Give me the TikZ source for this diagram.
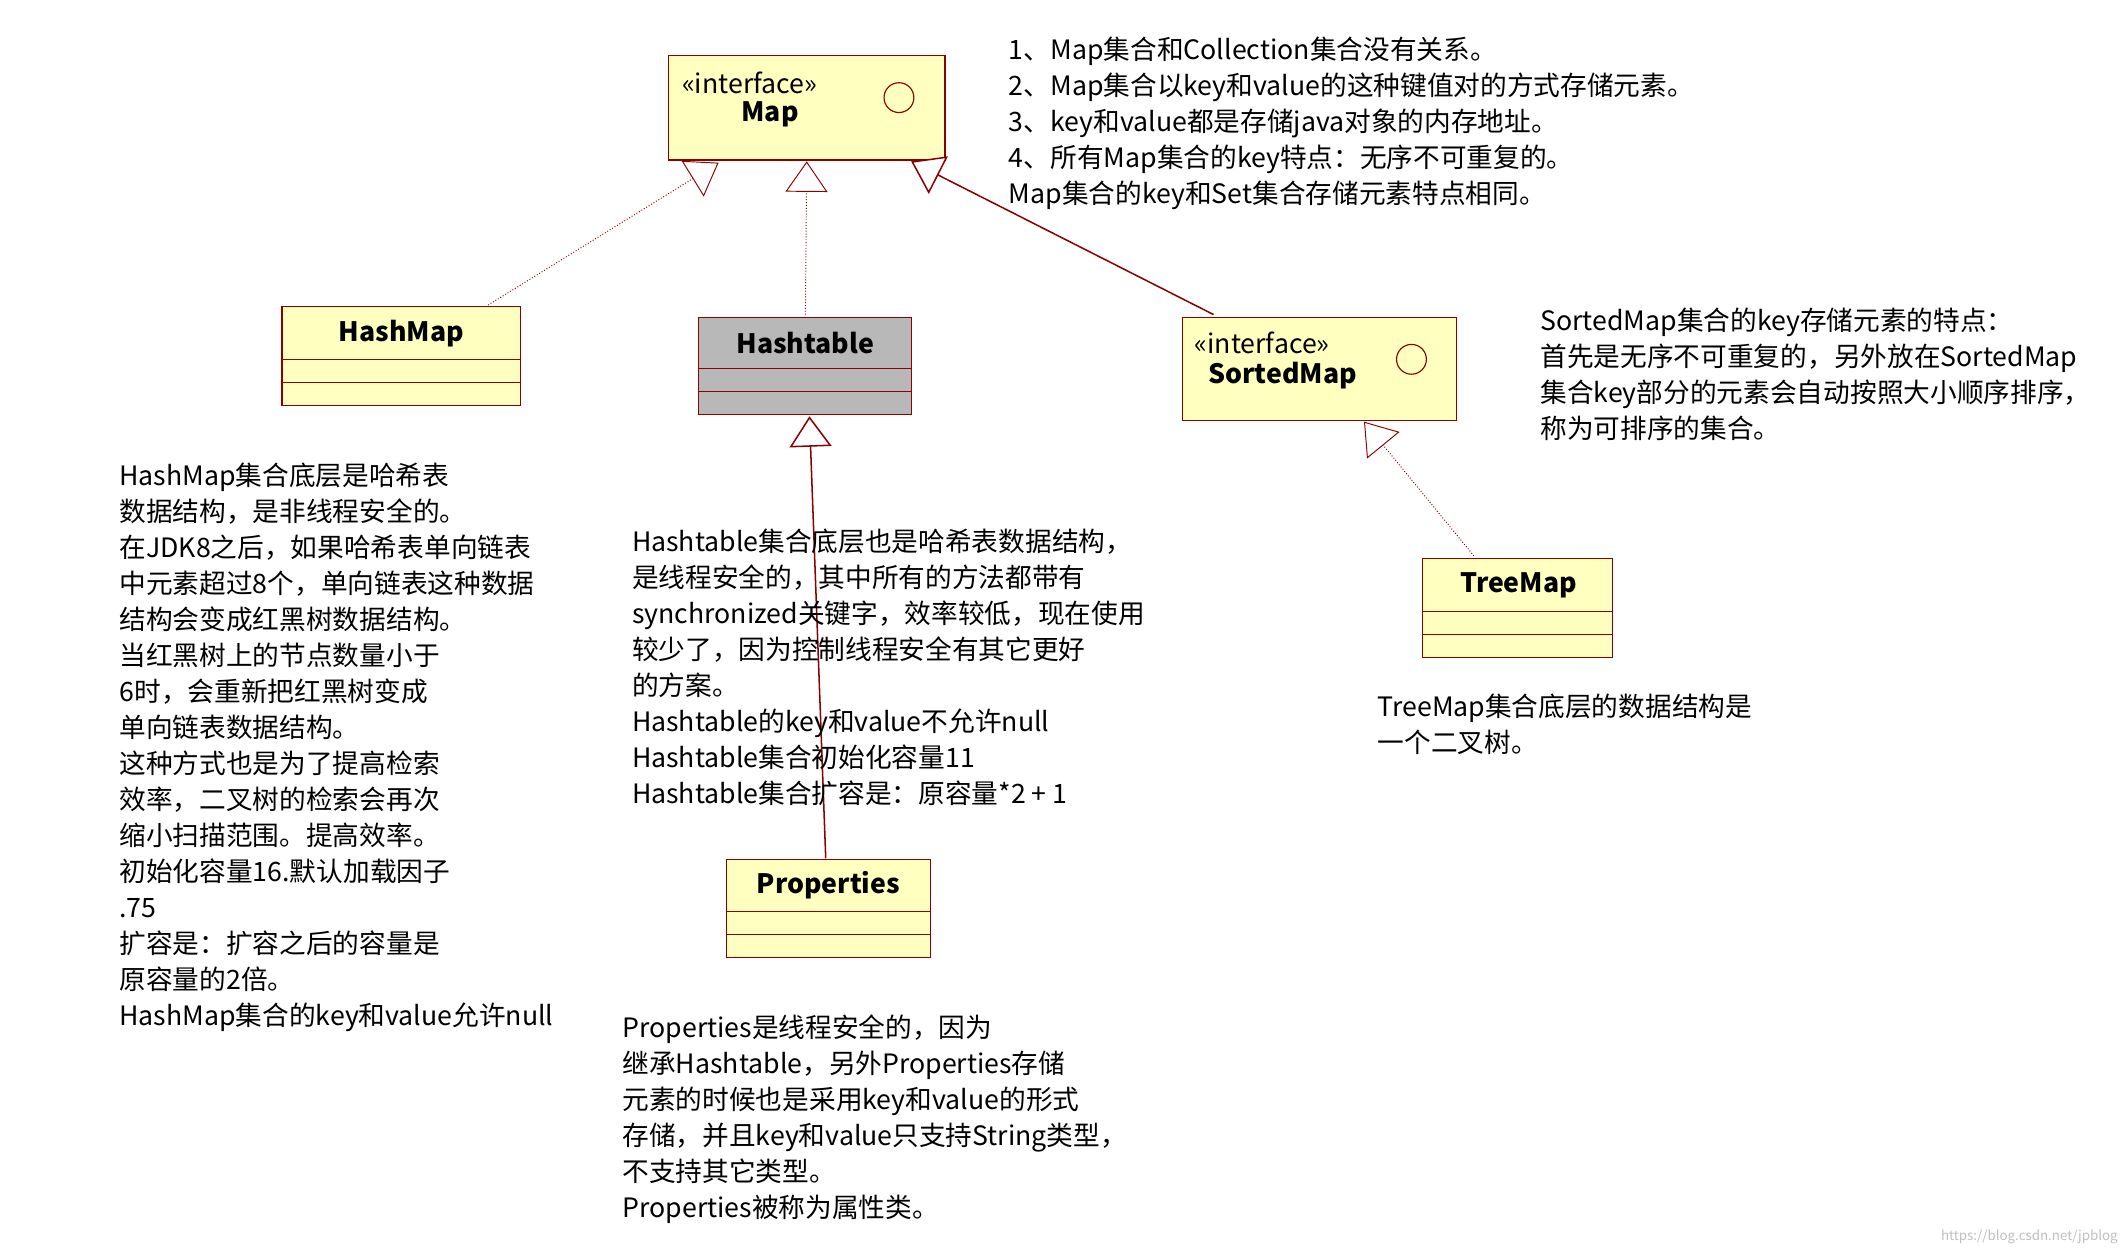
\documentclass[tikz,border=0pt]{standalone}
\usepackage{fontspec}
\setmainfont{Noto Sans CJK SC}
\usetikzlibrary{arrows.meta}
\definecolor{boxfill}{HTML}{FFFFC0}
\definecolor{uml}{HTML}{8B0000}
\begin{document}
\begin{tikzpicture}[x=0.05cm,y=-0.05cm,
  umlbox/.style={draw=uml,fill=boxfill,line width=1.2pt},
  note/.style={anchor=north west,inner sep=0pt,align=left,font=\fontsize{28}{37.8}\selectfont},
  lbl/.style={inner sep=0pt,font=\fontsize{28}{34}\selectfont},
  blbl/.style={inner sep=0pt,font=\fontsize{28}{34}\selectfont\bfseries},
  realize/.style={draw=uml,line width=1pt,dotted,-{Triangle[open,fill=white,length=32pt,width=44pt]}},
  extend/.style={draw=uml,line width=1.6pt,-{Triangle[open,fill=white,length=32pt,width=44pt]}}]
\fill[white] (0,0) rectangle (1568,925);
% Map
\draw[umlbox] (493,41) rectangle (697,118);
\node[lbl,anchor=west] (mapi) at (503,61) {<<interface>>};
\node[blbl] (mapt) at (568,84) {Map};
\draw[uml,line width=1.2pt] (663,72) circle (11);
\coordinate (map1) at (530,120);
\coordinate (map2) at (595,119);
\coordinate (map3) at (672,119);
% HashMap
\draw[umlbox] (208,226) rectangle (384,299);
\draw[uml,line width=1.2pt] (208,265) -- (384,265) (208,282) -- (384,282);
\node[blbl] (hm) at (296,246) {HashMap};
\coordinate (hmt) at (360,225);
% Hashtable
\draw[umlbox,fill=black!28] (515,234) rectangle (672,306);
\draw[uml,line width=1.2pt] (515,272) -- (672,272) (515,289) -- (672,289);
\node[blbl] (ht) at (594,253) {Hashtable};
\coordinate (htt) at (594,232);
\coordinate (htb) at (597,307);
% SortedMap
\draw[umlbox] (872,234) rectangle (1074,310);
\node[lbl,anchor=west] (smi) at (881,253) {<<interface>>};
\node[blbl] (sm) at (946,277) {SortedMap};
\draw[uml,line width=1.2pt] (1041,265) circle (11);
\coordinate (smt) at (895,232);
\coordinate (smb) at (1006,311);
% TreeMap
\draw[umlbox] (1049,412) rectangle (1189,485);
\draw[uml,line width=1.2pt] (1049,451) -- (1189,451) (1049,468) -- (1189,468);
\node[blbl] (tm) at (1120,432) {TreeMap};
\coordinate (tmt) at (1087,410);
% Properties
\draw[umlbox] (536,634) rectangle (686,706);
\draw[uml,line width=1.2pt] (536,672) -- (686,672) (536,689) -- (686,689);
\node[blbl] (pr) at (611,653) {Properties};
\coordinate (prt) at (609,633);
% connectors
\draw[realize] (hmt) -- (map1);
\draw[realize] (htt) -- (map2);
\draw[extend] (smt) -- (map3);
\draw[realize] (tmt) -- (smb);
\draw[extend] (prt) -- (htb);
% notes
\node[note] (n1) at (744,27) {1、Map集合和Collection集合没有关系。\\2、Map集合以key和value的这种键值对的方式存储元素。\\3、key和value都是存储java对象的内存地址。\\4、所有Map集合的key特点：无序不可重复的。\\Map集合的key和Set集合存储元素特点相同。};
\node[note] (n2) at (1136,227) {SortedMap集合的key存储元素的特点：\\首先是无序不可重复的，另外放在SortedMap\\集合key部分的元素会自动按照大小顺序排序，\\称为可排序的集合。};
\node[note] (n3) at (88,341) {HashMap集合底层是哈希表\\数据结构，是非线程安全的。\\在JDK8之后，如果哈希表单向链表\\中元素超过8个，单向链表这种数据\\结构会变成红黑树数据结构。\\当红黑树上的节点数量小于\\6时，会重新把红黑树变成\\单向链表数据结构。\\这种方式也是为了提高检索\\效率，二叉树的检索会再次\\缩小扫描范围。提高效率。\\初始化容量16.默认加载因子\\.75\\扩容是：扩容之后的容量是\\原容量的2倍。\\HashMap集合的key和value允许null};
\node[note] (n4) at (466,390) {Hashtable集合底层也是哈希表数据结构，\\是线程安全的，其中所有的方法都带有\\synchronized关键字，效率较低，现在使用\\较少了，因为控制线程安全有其它更好\\的方案。\\Hashtable的key和value不允许null\\Hashtable集合初始化容量11\\Hashtable集合扩容是：原容量*2 + 1};
\node[note] (n5) at (1016,512) {TreeMap集合底层的数据结构是\\一个二叉树。};
\node[note] (n6) at (459,748) {Properties是线程安全的，因为\\继承Hashtable，另外Properties存储\\元素的时候也是采用key和value的形式\\存储，并且key和value只支持String类型，\\不支持其它类型。\\Properties被称为属性类。};
\node[inner sep=0pt,anchor=east,text=black!25,font=\fontsize{14}{16}\selectfont] (wm) at (1562,912) {https://blog.csdn.net/jpblog};
\end{tikzpicture}
\end{document}
